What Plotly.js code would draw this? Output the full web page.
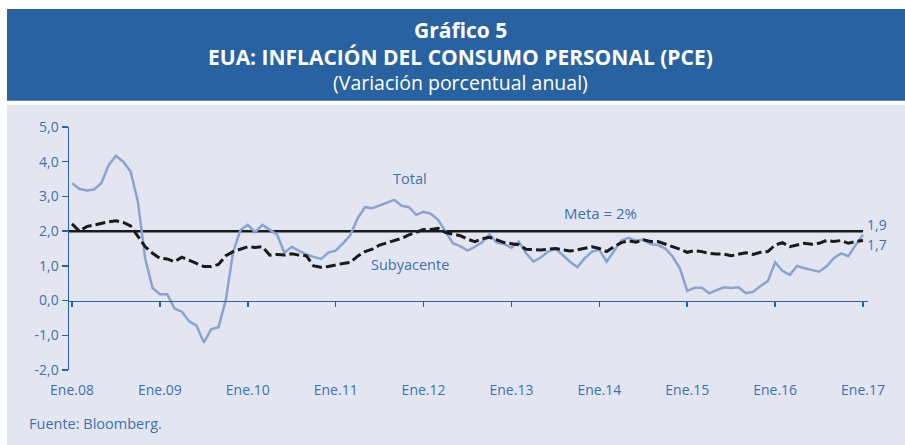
<!DOCTYPE html>
<html><head><meta charset="utf-8">
<script src="https://cdn.plot.ly/plotly-3.0.1.min.js"></script>
<style>html,body{margin:0;padding:0;background:#fff}#chart{width:905px;height:445px}</style>
</head><body><div id="chart"></div>
<script>
// Months Jan-2008 .. Jan-2017 (index 0..108)
const monthIndex = Array.from({length:109},(_,i)=>i);
const tickVals = [0,12,24,36,48,60,72,84,96,108];
const tickLabels = ["Ene.08","Ene.09","Ene.10","Ene.11","Ene.12","Ene.13","Ene.14","Ene.15","Ene.16","Ene.17"];
const yTickVals = [-2,-1,0,1,2,3,4,5];
const yTickLabels = ["-2,0","-1,0","0,0","1,0","2,0","3,0","4,0","5,0"];

const totalPCE = [3.38,3.22,3.17,3.20,3.38,3.90,4.17,4.00,3.72,2.85,1.20,0.36,
 0.18,0.18,-0.23,-0.32,-0.60,-0.72,-1.21,-0.83,-0.77,0.02,1.40,2.03,
 2.18,1.97,2.18,2.04,1.90,1.38,1.55,1.43,1.33,1.26,1.20,1.38,
 1.44,1.65,1.89,2.37,2.69,2.66,2.74,2.82,2.90,2.73,2.69,2.47,
 2.56,2.50,2.32,1.99,1.65,1.57,1.44,1.55,1.68,1.91,1.67,1.63,
 1.52,1.70,1.36,1.12,1.24,1.41,1.50,1.31,1.12,0.96,1.22,1.41,
 1.46,1.12,1.41,1.73,1.81,1.73,1.75,1.63,1.60,1.50,1.27,0.93,
 0.28,0.37,0.37,0.21,0.30,0.38,0.36,0.38,0.21,0.25,0.42,0.56,
 1.10,0.86,0.74,1.00,0.93,0.88,0.83,0.98,1.22,1.36,1.28,1.60,
 1.90];
const corePCE = [2.21,2.00,2.13,2.18,2.23,2.27,2.30,2.25,2.15,1.84,1.55,1.36,
 1.22,1.20,1.12,1.25,1.17,1.07,0.98,0.98,1.04,1.29,1.41,1.48,
 1.55,1.53,1.55,1.31,1.33,1.31,1.35,1.31,1.29,1.00,0.96,0.98,
 1.03,1.07,1.10,1.28,1.41,1.48,1.60,1.67,1.73,1.79,1.89,1.96,
 2.05,2.05,2.08,1.96,1.91,1.87,1.77,1.70,1.78,1.82,1.75,1.67,
 1.64,1.61,1.48,1.46,1.46,1.48,1.50,1.46,1.43,1.46,1.50,1.55,
 1.50,1.41,1.55,1.67,1.72,1.68,1.75,1.70,1.70,1.63,1.54,1.48,
 1.39,1.44,1.41,1.36,1.34,1.34,1.29,1.34,1.38,1.33,1.39,1.41,
 1.60,1.67,1.55,1.60,1.65,1.62,1.65,1.73,1.70,1.73,1.65,1.70,
 1.73];
const metaValue = 2;
const endLabels = ["1,9","1,7"];

const BLUE='#2a62a0', TXT='#3f70ae', LAV='#e3e6f1';
const FONT='Open Sans, Noto Sans, sans-serif';
const xStart=-0.41, xEnd=108.68;
const last = monthIndex.length-1;

const traces = [
 {x:[xStart, monthIndex[last]], y:[metaValue, metaValue], mode:'lines', line:{color:'#1a1a1a', width:2.5}, hoverinfo:'skip'},
 {x:monthIndex, y:totalPCE, mode:'lines', line:{color:'#8aa3cf', width:2.5}},
 {x:monthIndex, y:corePCE, mode:'lines', line:{color:'#1a1a1a', width:3, dash:'10px,4px'}}
];

const layout = {
 width:905, height:445,
 margin:{l:69, r:37, t:127, b:75},
 paper_bgcolor:'#ffffff', plot_bgcolor:LAV,
 showlegend:false, separators:',.',
 font:{family:FONT, color:TXT},
 xaxis:{range:[xStart,xEnd], anchor:'free', position:2/7, showline:true, linecolor:BLUE, linewidth:1.5,
   ticks:'outside', ticklen:5, tickcolor:BLUE, tickwidth:1.5, tickvals:tickVals, ticktext:tickLabels,
   ticklabelstandoff:71, showgrid:false, zeroline:false, tickfont:{size:14, color:TXT, family:FONT}},
 yaxis:{range:[-2,5], tickvals:yTickVals, ticktext:yTickLabels, showline:true, linecolor:BLUE, linewidth:1.5,
   ticks:'outside', ticklen:6, tickcolor:BLUE, tickwidth:1.5, showgrid:false, zeroline:false,
   tickfont:{size:14, color:TXT, family:FONT}},
 shapes:[
  {type:'rect', xref:'paper', yref:'paper', x0:-0.0776, x1:1.05, y0:1.108, y1:1.4856, fillcolor:'#2862a0', line:{width:0}, layer:'below'},
  {type:'rect', xref:'paper', yref:'paper', x0:-0.0776, x1:1.05, y0:-0.32, y1:1.0905, fillcolor:LAV, line:{width:0}, layer:'below'}
 ],
 annotations:[
  {xref:'paper', yref:'paper', x:0.4906, y:1.399, yanchor:'middle', text:'<b>Gráfico 5</b>', showarrow:false, font:{size:21, color:'#ffffff', family:FONT}},
  {xref:'paper', yref:'paper', x:0.4906, y:1.288, yanchor:'middle', text:'<b>EUA: INFLACIÓN DEL CONSUMO PERSONAL (PCE)</b>', showarrow:false, font:{size:21, color:'#ffffff', family:FONT}},
  {xref:'paper', yref:'paper', x:0.4906, y:1.185, yanchor:'middle', text:'(Variación porcentual anual)', showarrow:false, font:{size:19.5, color:'#ffffff', family:FONT}},
  {x:46.1, y:3.51, text:'Total', showarrow:false, font:{size:14.5, color:TXT, family:FONT}},
  {x:46.2, y:1.05, text:'Subyacente', showarrow:false, font:{size:14.5, color:TXT, family:FONT}},
  {x:72.1, y:2.53, text:'Meta = 2%', showarrow:false, font:{size:15, color:TXT, family:FONT}},
  {x:108.4, y:2.18, xanchor:'left', borderpad:0, text:endLabels[0], showarrow:false, font:{size:14, color:TXT, family:FONT}},
  {x:108.4, y:1.62, xanchor:'left', borderpad:0, text:endLabels[1], showarrow:false, font:{size:14, color:TXT, family:FONT}},
  {xref:'paper', yref:'paper', x:-0.052, y:-0.222, xanchor:'left', yanchor:'middle', text:'Fuente: Bloomberg.', showarrow:false, font:{size:14.5, color:TXT, family:FONT}}
 ]
};
Plotly.newPlot('chart', traces, layout, {staticPlot:true, displayModeBar:false});
</script></body></html>
